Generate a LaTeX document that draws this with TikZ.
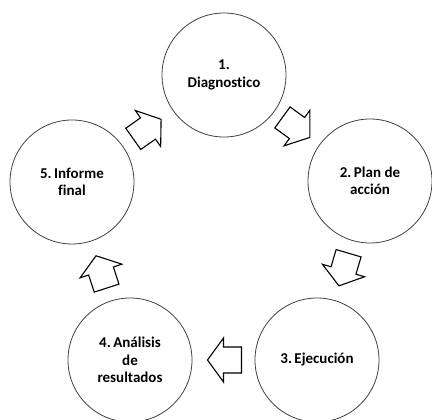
\documentclass[tikz,border=0pt]{standalone}
\usepackage{fontspec}
\setmainfont{Carlito}[Ligatures={NoCommon}]
\usetikzlibrary{calc}
\tikzset{
  stage/.style={circle, draw=black!75, line width=0.8pt, minimum size=124pt, inner sep=0pt,
    align=center, font=\bfseries\fontsize{15}{17.5}\selectfont},
  blockarrow/.style={draw=black, line width=1.1pt, line join=miter, fill=white}
}
\begin{document}
\begin{tikzpicture}[x=1pt,y=-1pt]
\fill[white] (0,0) rectangle (432,420);
\useasboundingbox (0,0) rectangle (432,420);
\node[stage] (c1) at (224,75) {1.\\Diagnostico};
\node[stage] (c2) at (370,181) {2.\,Plan de\\acción};
\node[stage] (c3) at (317,360) {3.\,Ejecución};
\node[stage] (c4) at (130,360) {4.\,Análisis\\de\\resultados};
\node[stage] (c5) at (72,182) {5.\,Informe\\final};
\foreach \a/\b [count=\i] in {c1/c2,c2/c3,c3/c4,c4/c5,c5/c1}{
  \coordinate (m\i) at ($(\a)!0.5!(\b)$);
  \coordinate (t\i) at ($(m\i)!18pt!180:(\b)$);
  \coordinate (p\i) at ($(m\i)!16pt!(\b)$);
  \draw[blockarrow] ($(t\i)!13pt!90:(\b)$) -- ($(m\i)!13pt!90:(\b)$) -- ($(m\i)!22pt!90:(\b)$)
    -- (p\i) -- ($(m\i)!22pt!-90:(\b)$) -- ($(m\i)!13pt!-90:(\b)$) -- ($(t\i)!13pt!-90:(\b)$) -- cycle;
}
\end{tikzpicture}
\end{document}
